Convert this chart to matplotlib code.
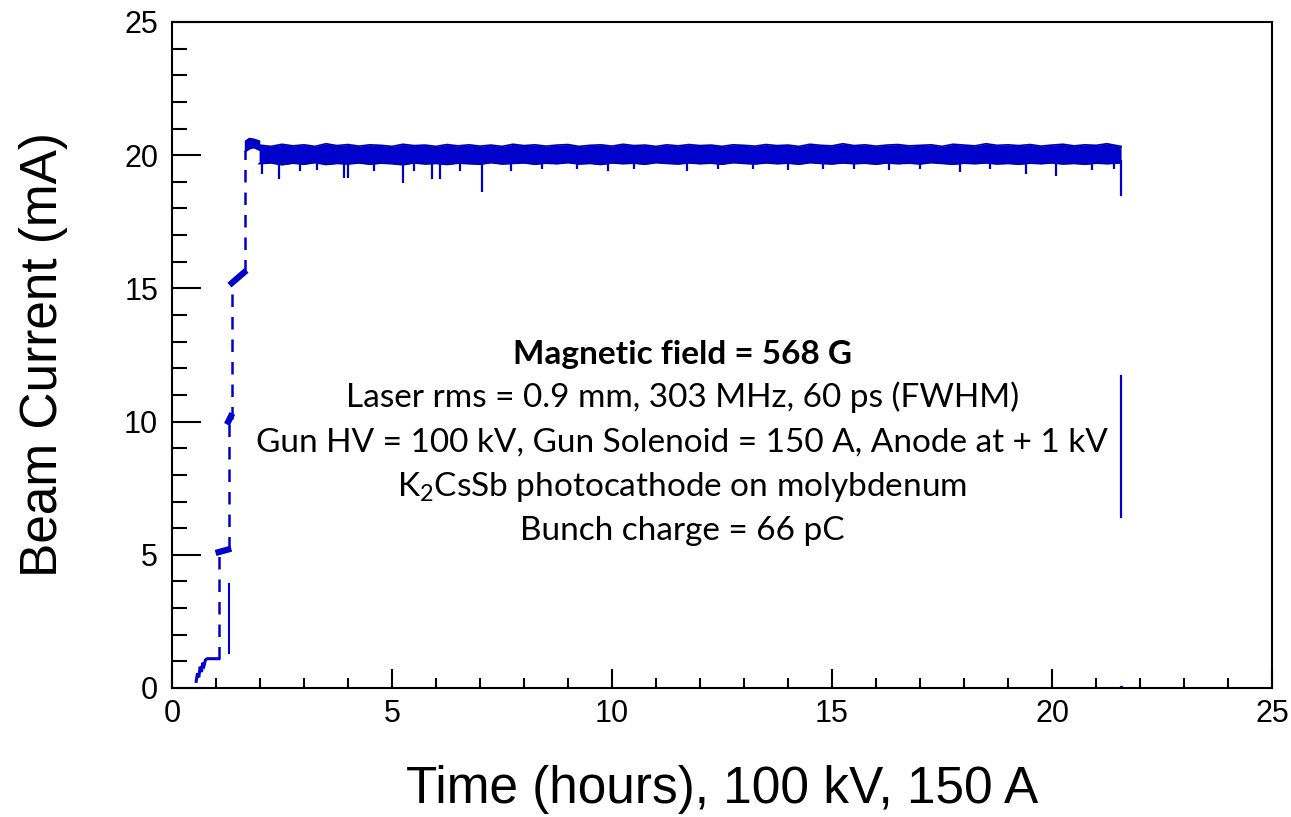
import matplotlib
matplotlib.use("Agg")
import matplotlib.pyplot as plt
import numpy as np

# ---------------- data ----------------
# early ramp (hours, mA)
early_t = [0.55, 0.58, 0.61, 0.64, 0.67, 0.70, 0.73, 0.76, 0.80, 1.06]
early_i = [0.25, 0.55, 0.40, 0.80, 0.60, 0.95, 0.85, 1.05, 1.10, 1.10]

# plateaus during the ramp-up: start, end, current at start, current at end
plat_t0 = [1.06, 1.28, 1.36, 1.66]
plat_t1 = [1.28, 1.34, 1.64, 1.98]
plat_i0 = [5.10, 10.0, 15.2, 20.45]
plat_i1 = [5.20, 10.2, 15.6, 20.45]

# last plateau is a noisy block: low / high edge
blk_t = [1.66, 1.75, 1.85, 1.98]
blk_lo = [20.15, 20.25, 20.3, 20.2]
blk_hi = [20.55, 20.65, 20.62, 20.55]

# dashed transitions between plateaus: time, from, to
trans_t = [1.06, 1.30, 1.36, 1.66]
trans_lo = [1.10, 5.20, 10.1, 15.6]
trans_hi = [5.10, 10.0, 15.2, 20.2]

# isolated solid line during the ramp
glitch_t = 1.30
glitch_lo, glitch_hi = 1.3, 3.9

# steady-state band around 20 mA: envelope sampled every 0.25 h
band_t = [1.98, 2.25, 2.5, 2.75, 3.0, 3.25, 3.5, 3.75, 4.0, 4.25, 4.5, 4.75,
          5.0, 5.25, 5.5, 5.75, 6.0, 6.25, 6.5, 6.75, 7.0, 7.25, 7.5, 7.75,
          8.0, 8.25, 8.5, 8.75, 9.0, 9.25, 9.5, 9.75, 10.0, 10.25, 10.5, 10.75,
          11.0, 11.25, 11.5, 11.75, 12.0, 12.25, 12.5, 12.75, 13.0, 13.25, 13.5,
          13.75, 14.0, 14.25, 14.5, 14.75, 15.0, 15.25, 15.5, 15.75, 16.0, 16.25,
          16.5, 16.75, 17.0, 17.25, 17.5, 17.75, 18.0, 18.25, 18.5, 18.75, 19.0,
          19.25, 19.5, 19.75, 20.0, 20.25, 20.5, 20.75, 21.0, 21.25, 21.57]
band_hi = [20.38, 20.33, 20.41, 20.35, 20.39, 20.33, 20.43, 20.36, 20.40, 20.34, 20.39, 20.37,
           20.33, 20.41, 20.36, 20.38, 20.33, 20.40, 20.35, 20.39, 20.34, 20.38, 20.33, 20.41,
           20.36, 20.39, 20.34, 20.38, 20.40, 20.33, 20.37, 20.39, 20.34, 20.41, 20.36, 20.38,
           20.33, 20.39, 20.35, 20.40, 20.36, 20.38, 20.33, 20.39, 20.37, 20.34, 20.40,
           20.36, 20.38, 20.33, 20.41, 20.37, 20.35, 20.43, 20.36, 20.39, 20.34, 20.38,
           20.40, 20.35, 20.37, 20.39, 20.33, 20.41, 20.38, 20.35, 20.43, 20.37, 20.39,
           20.36, 20.40, 20.34, 20.38, 20.41, 20.35, 20.39, 20.37, 20.43, 20.33]
band_lo = [19.68, 19.71, 19.64, 19.70, 19.66, 19.72, 19.65, 19.69, 19.67, 19.71, 19.66, 19.70,
           19.68, 19.64, 19.71, 19.67, 19.69, 19.65, 19.70, 19.68, 19.66, 19.72, 19.67, 19.69,
           19.71, 19.66, 19.70, 19.68, 19.72, 19.67, 19.69, 19.65, 19.71, 19.68, 19.70, 19.66,
           19.72, 19.69, 19.67, 19.71, 19.68, 19.70, 19.66, 19.72, 19.69, 19.67, 19.71,
           19.68, 19.70, 19.66, 19.72, 19.69, 19.67, 19.71, 19.68, 19.70, 19.66, 19.71,
           19.68, 19.70, 19.67, 19.72, 19.69, 19.66, 19.70, 19.68, 19.71, 19.67, 19.69,
           19.66, 19.70, 19.68, 19.71, 19.67, 19.69, 19.66, 19.70, 19.68, 19.71]

# downward spikes out of the band: time, minimum current
spike_t = [2.05, 2.43, 2.9, 3.3, 3.9, 4.0, 4.6, 5.25, 5.5, 5.9, 6.1, 6.55, 7.05, 7.7,
           8.4, 9.2, 9.9, 10.5, 11.7, 12.4, 13.2, 14.0, 14.8, 15.5, 16.3, 17.0, 17.9,
           18.6, 19.4, 20.1, 20.9, 21.4]
spike_min = [19.3, 19.1, 19.4, 19.45, 19.15, 19.15, 19.4, 18.97, 19.4, 19.1, 19.1, 19.4,
             18.6, 19.4, 19.5, 19.5, 19.4, 19.5, 19.4, 19.5, 19.5, 19.45, 19.5, 19.5,
             19.45, 19.5, 19.35, 19.5, 19.3, 19.2, 19.45, 19.5]

# end of run
end_t = 21.57
end_drop = (18.5, 19.8)
end_seg = (6.4, 11.7)
end_zero = 0.05

# ---------------- figure ----------------
plt.rcParams['mathtext.fontset'] = 'custom'
plt.rcParams['mathtext.rm'] = 'Lato'
plt.rcParams['mathtext.it'] = 'Lato:italic'

C = '#0000cc'
fig = plt.figure(figsize=(12.91, 8.17), dpi=100)
ax = fig.add_axes([0.1332, 0.1579, 0.8521, 0.8152])

ax.plot(early_t, early_i, color=C, lw=2.2, solid_joinstyle='miter')
for t0, t1, i0, i1 in zip(plat_t0[:-1], plat_t1[:-1], plat_i0[:-1], plat_i1[:-1]):
    ax.plot([t0, t1], [i0, i1], color=C, lw=4.5)
ax.fill_between(blk_t, blk_lo, blk_hi, color=C, lw=1.0, edgecolor='#0000aa')
for t, lo, hi in zip(trans_t, trans_lo, trans_hi):
    ax.plot([t, t], [lo, hi], color=C, lw=1.8, ls=(0, (5, 4)))
ax.plot([glitch_t, glitch_t], [glitch_lo, glitch_hi], color=C, lw=1.5)

ax.fill_between(band_t, band_lo, band_hi, color=C, lw=0)
ax.plot(band_t, band_hi, color='#0000aa', lw=1.2)
ax.plot(band_t, band_lo, color='#0000aa', lw=1.2)
ax.vlines(spike_t, spike_min, 19.8, color=C, lw=1.6)

ax.plot([end_t, end_t], end_drop, color=C, lw=1.6)
ax.plot([end_t, end_t], end_seg, color=C, lw=1.6)
ax.plot([end_t], [end_zero], 's', color=C, ms=2)

ax.set_xlim(0, 25)
ax.set_ylim(0, 25)
ax.set_xticks([0, 5, 10, 15, 20, 25])
ax.set_yticks([0, 5, 10, 15, 20, 25])
ax.set_xticks(np.arange(0, 26, 1), minor=True)
ax.set_yticks(np.arange(0, 26, 1), minor=True)
ax.tick_params(axis='y', which='major', direction='in', length=21, width=1.5,
               labelsize=22, pad=10)
ax.tick_params(axis='y', which='minor', direction='in', length=11, width=1.5)
ax.tick_params(axis='x', which='major', direction='in', length=14, width=1.5,
               labelsize=22, pad=8)
ax.tick_params(axis='x', which='minor', direction='in', length=7, width=1.5)
for lab in ax.get_xticklabels() + ax.get_yticklabels():
    lab.set_family('Liberation Sans')
for s in ax.spines.values():
    s.set_linewidth(1.5)

ax.set_xlabel('Time (hours), 100 kV, 150 A', family='Liberation Sans',
              fontsize=37, labelpad=26)
ax.set_ylabel('Beam Current (mA)', family='Liberation Sans', fontsize=37,
              labelpad=40)

lines = ['Laser rms = 0.9 mm, 303 MHz, 60 ps (FWHM)',
         'Gun HV = 100 kV, Gun Solenoid = 150 A, Anode at + 1 kV',
         r'K$_2$CsSb photocathode on molybdenum',
         'Bunch charge = 66 pC']
xc = 11.6
ax.text(xc, 12.53, 'Magnetic field = 568 G', family='Lato', fontsize=24,
        fontweight='bold', ha='center', va='center')
for k, s in enumerate(lines):
    ax.text(xc, 10.9 - 1.67 * k, s, family='Lato', fontsize=24,
            ha='center', va='center')

fig.savefig('out.png', dpi=100)
